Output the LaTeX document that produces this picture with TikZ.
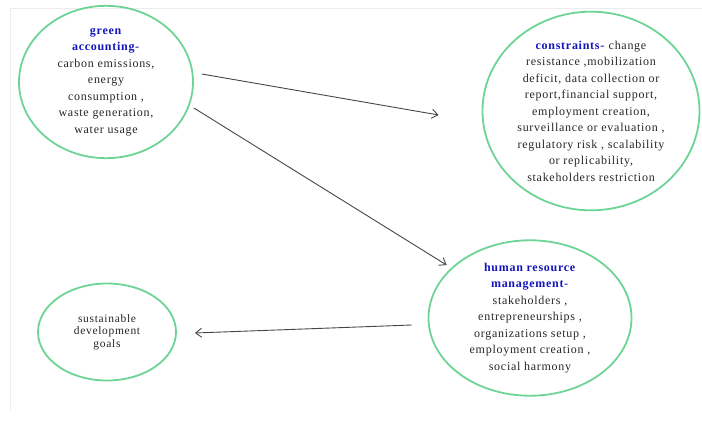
\documentclass[tikz,border=0pt]{standalone}
\usepackage{fontspec}
\setmainfont{Liberation Serif}[LetterSpace=6]
\usetikzlibrary{shapes.geometric,arrows.meta}
\definecolor{ellgreen}{RGB}{110,212,150}
\definecolor{ttlblue}{RGB}{20,20,190}
\definecolor{arrgray}{RGB}{70,70,70}
\definecolor{framegray}{RGB}{236,236,236}
\tikzset{
  bubble/.style={ellipse, draw=ellgreen, line width=1.8pt, inner sep=0pt, align=center,
    font=\fontsize{12}{16.5}\selectfont, text=black!85},
  arr/.style={draw=arrgray, line width=0.9pt, -{Straight Barb[length=6pt,width=9pt]}},
}
\newcommand{\ttlx}[1]{\textcolor{ttlblue}{\textbf{#1}}}
\begin{document}
\begin{tikzpicture}[x=1pt,y=-1pt]
\useasboundingbox (0,0) rectangle (702,429);
\draw[framegray, line width=1pt] (10,410) coordinate (fl) -- (10,8) coordinate (ftl) -- (702,8) coordinate (ftr);
\node[bubble, minimum width=174pt, minimum height=135pt] (ga) at (106,82)
  {\ttlx{green}\\\ttlx{accounting-}\\carbon emissions,\\energy\\consumption ,\\waste generation,\\water usage};
\node[bubble, minimum width=217pt, minimum height=190pt] (cons) at (591,111)
  {\ttlx{constraints-} change\\resistance ,mobilization\\deficit, data collection or\\report,financial support,\\employment creation,\\surveillance or evaluation ,\\regulatory risk , scalability\\or replicability,\\stakeholders restriction};
\node[bubble, minimum width=203pt, minimum height=137pt] (hrm) at (530,318)
  {\ttlx{human resource}\\\ttlx{management-}\\stakeholders ,\\entrepreneurships ,\\organizations setup ,\\employment creation ,\\social harmony};
\node[bubble, minimum width=138pt, minimum height=97pt, font=\fontsize{11.5}{12.5}\selectfont] (sdg) at (107,332)
  {sustainable\\development\\goals};
\draw[arr] ([shift={(8,-8)}]ga.east) -- ([shift={(-43,4)}]cons.west);
\draw[arr] ([shift={(0,26)}]ga.east) -- ([shift={(19,-53)}]hrm.west);
\draw[arr] ([shift={(-16,7)}]hrm.west) -- ([shift={(18,1)}]sdg.east);
\end{tikzpicture}
\end{document}
